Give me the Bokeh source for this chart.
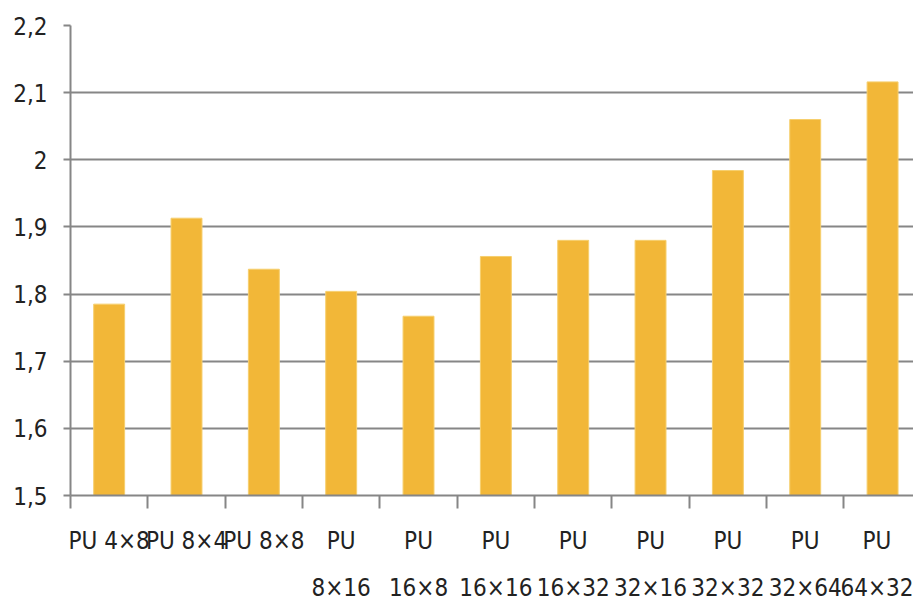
from bokeh.plotting import figure
from bokeh.models import ColumnDataSource, FixedTicker, CustomJSTickFormatter, Range1d
from bokeh.embed import file_html
from bokeh.resources import INLINE

categories = ["PU 4×8", "PU 8×4", "PU 8×8", "PU\n8×16", "PU\n16×8", "PU\n16×16",
              "PU\n16×32", "PU\n32×16", "PU\n32×32", "PU\n32×64", "PU\n64×32"]
values = [1.785, 1.913, 1.837, 1.804, 1.767, 1.856, 1.880, 1.880, 1.984, 2.060, 2.116]
y_ticks = [1.5, 1.6, 1.7, 1.8, 1.9, 2.0, 2.1, 2.2]

xs = [i + 0.5 for i in range(len(categories))]
src = ColumnDataSource(dict(x=xs, top=values))

FONT = "DejaVu Sans Condensed"
GRID = "#868686"

p = figure(width=913, height=606, output_backend="svg", toolbar_location=None,
           x_range=Range1d(0, 10.9), y_range=Range1d(1.5, 2.2),
           min_border_left=70, min_border_top=25, min_border_bottom=111,
           min_border_right=0)
p.outline_line_color = None
p.background_fill_color = "white"

p.vbar(x="x", top="top", bottom=1.5, width=0.4, source=src,
       fill_color="#F2B738", line_color="#F6CF6E", line_width=1)

# y axis
p.yaxis.ticker = FixedTicker(ticks=y_ticks)
p.yaxis.formatter = CustomJSTickFormatter(code="""
    const s = (Math.round(tick*10)/10).toString();
    return s.replace('.', ',');
""")
p.yaxis.axis_line_color = GRID
p.yaxis.axis_line_width = 2
p.yaxis.major_tick_line_color = GRID
p.yaxis.major_tick_line_width = 2
p.yaxis.major_tick_in = 0
p.yaxis.major_tick_out = 7
p.yaxis.minor_tick_line_color = None
p.yaxis.major_label_standoff = 16
p.yaxis.major_label_text_font = FONT
p.yaxis.major_label_text_font_size = "24px"
p.yaxis.major_label_text_color = "#222222"

# x axis
p.xaxis.ticker = FixedTicker(ticks=xs, minor_ticks=list(range(0, 12)))
p.xaxis.major_label_overrides = {x: c for x, c in zip(xs, categories)}
p.xaxis.axis_line_color = GRID
p.xaxis.axis_line_width = 2
p.xaxis.major_tick_line_color = None
p.xaxis.minor_tick_line_color = GRID
p.xaxis.minor_tick_line_width = 2
p.xaxis.minor_tick_in = 0
p.xaxis.minor_tick_out = 13
p.xaxis.major_label_standoff = 18
p.xaxis.major_label_text_font = FONT
p.xaxis.major_label_text_font_size = "24px"
p.xaxis.major_label_text_color = "#222222"
p.xaxis.major_label_text_line_height = 1.7

p.xgrid.grid_line_color = None
p.ygrid.ticker = FixedTicker(ticks=y_ticks)
p.ygrid.grid_line_color = GRID
p.ygrid.grid_line_width = 2

open("out.html", "w").write(file_html(p, INLINE))
